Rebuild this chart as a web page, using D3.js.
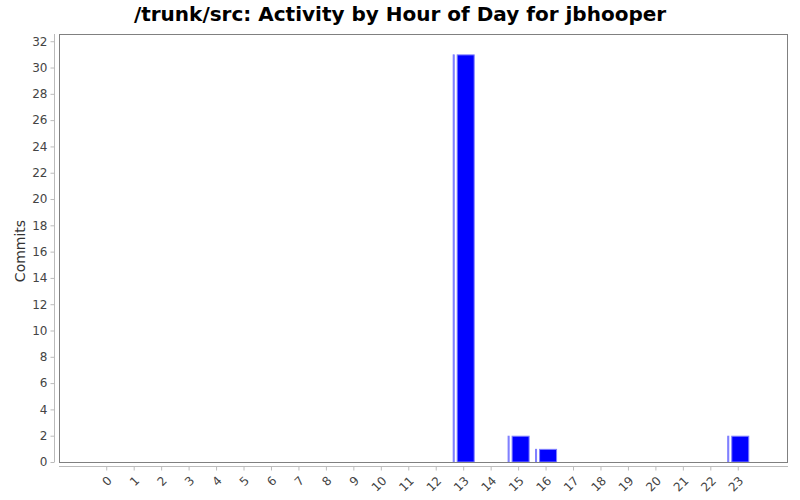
<!DOCTYPE html>
<html>
<head>
<meta charset="utf-8">
<script src="https://cdn.jsdelivr.net/npm/d3@7"></script>
<style>
  body { margin: 0; background: #fff; }
  svg { display: block; font-family: "DejaVu Sans", sans-serif; }
</style>
</head>
<body>
<svg id="chart" width="800" height="500"></svg>
<script>
// data
const hours = d3.range(0, 24).map(String)
const commits = [0, 0, 0, 0, 0, 0, 0, 0, 0, 0, 0, 0, 0, 31, 0, 2, 1, 0, 0, 0, 0, 0, 0, 2]
const yTicks = d3.range(0, 33, 2)
const title = "/trunk/src: Activity by Hour of Day for jbhooper"
const yLabel = "Commits"

const width = 800
const height = 500
const plot = {left: 59, top: 34, right: 788, bottom: 462}

const svg = d3.select("#chart")

svg.append("rect")
    .attr("width", width)
    .attr("height", height)
    .attr("fill", "#fff")

svg.append("text")
    .text(title)
    .attr("x", width / 2)
    .attr("y", 21)
    .attr("text-anchor", "middle")
    .attr("font-size", 20)
    .attr("font-weight", "bold")
    .attr("fill", "#000")

// scales
const xScale = d3.scaleBand()
    .domain(hours)
    .range([93, 752])
    .padding(0)

const yScale = d3.scaleLinear()
    .domain([0, d3.max(commits) * 1.05])
    .range([plot.bottom, plot.top])

// plot border
svg.append("rect")
    .attr("x", plot.left + 0.5)
    .attr("y", plot.top + 0.5)
    .attr("width", plot.right - plot.left - 1)
    .attr("height", plot.bottom - plot.top)
    .attr("fill", "none")
    .attr("stroke", "#808080")

// bars: thin stripe at the left, then the main block
const bw = 22
const bars = svg.append("g")
    .selectAll("g")
    .data(commits.map((v, i) => ({hour: hours[i], value: v})).filter(d => d.value > 0))
    .join("g")

bars.append("rect")
    .attr("x", d => xScale(d.hour) + xScale.bandwidth() / 2 - bw / 2 + 0.5)
    .attr("y", d => yScale(d.value) + 0.5)
    .attr("width", 1)
    .attr("height", d => yScale(0) - yScale(d.value) - 0.5)
    .attr("fill", "#0000ff")
    .attr("stroke", "#8080ff")
    .attr("stroke-width", 1)

bars.append("rect")
    .attr("x", d => xScale(d.hour) + xScale.bandwidth() / 2 - bw / 2 + 4.5)
    .attr("y", d => yScale(d.value) + 0.5)
    .attr("width", bw - 5)
    .attr("height", d => yScale(0) - yScale(d.value) - 0.5)
    .attr("fill", "#0000ff")
    .attr("stroke", "#8080ff")
    .attr("stroke-width", 1)

// redraw bottom border over the bars
svg.append("line")
    .attr("x1", plot.left)
    .attr("x2", plot.right)
    .attr("y1", plot.bottom + 0.5)
    .attr("y2", plot.bottom + 0.5)
    .attr("stroke", "#808080")

// y axis
const yAxis = svg.append("g")
    .attr("transform", `translate(${54.5},0)`)
    .call(d3.axisLeft(yScale).tickValues(yTicks).tickSize(4).tickPadding(3))
yAxis.select(".domain")
    .attr("d", `M0,${plot.top}V${plot.bottom}`)
    .attr("stroke", "#bbb")
yAxis.selectAll(".tick line").attr("stroke", "#bbb")
yAxis.selectAll(".tick text")
    .attr("font-size", 12)
    .attr("font-family", "DejaVu Sans, sans-serif")
    .attr("fill", "#444")

// x axis
const xAxis = svg.append("g")
    .attr("transform", `translate(0,${466.5})`)
    .call(d3.axisBottom(xScale).tickSize(4).tickPadding(2))
xAxis.select(".domain")
    .attr("d", `M${plot.left},0H${plot.right}`)
    .attr("stroke", "#bbb")
xAxis.selectAll(".tick line").attr("stroke", "#bbb")
xAxis.selectAll(".tick text")
    .attr("font-size", 12)
    .attr("font-family", "DejaVu Sans, sans-serif")
    .attr("fill", "#444")
    .attr("text-anchor", "end")
    .attr("dy", "0.35em")
    .attr("transform", "translate(3,12) rotate(-45)")
    .attr("y", 0)
    .attr("x", 0)

svg.append("text")
    .text(yLabel)
    .attr("transform", `translate(25,251) rotate(-90)`)
    .attr("text-anchor", "middle")
    .attr("font-size", 14)
    .attr("fill", "#333")
</script>
</body>
</html>
